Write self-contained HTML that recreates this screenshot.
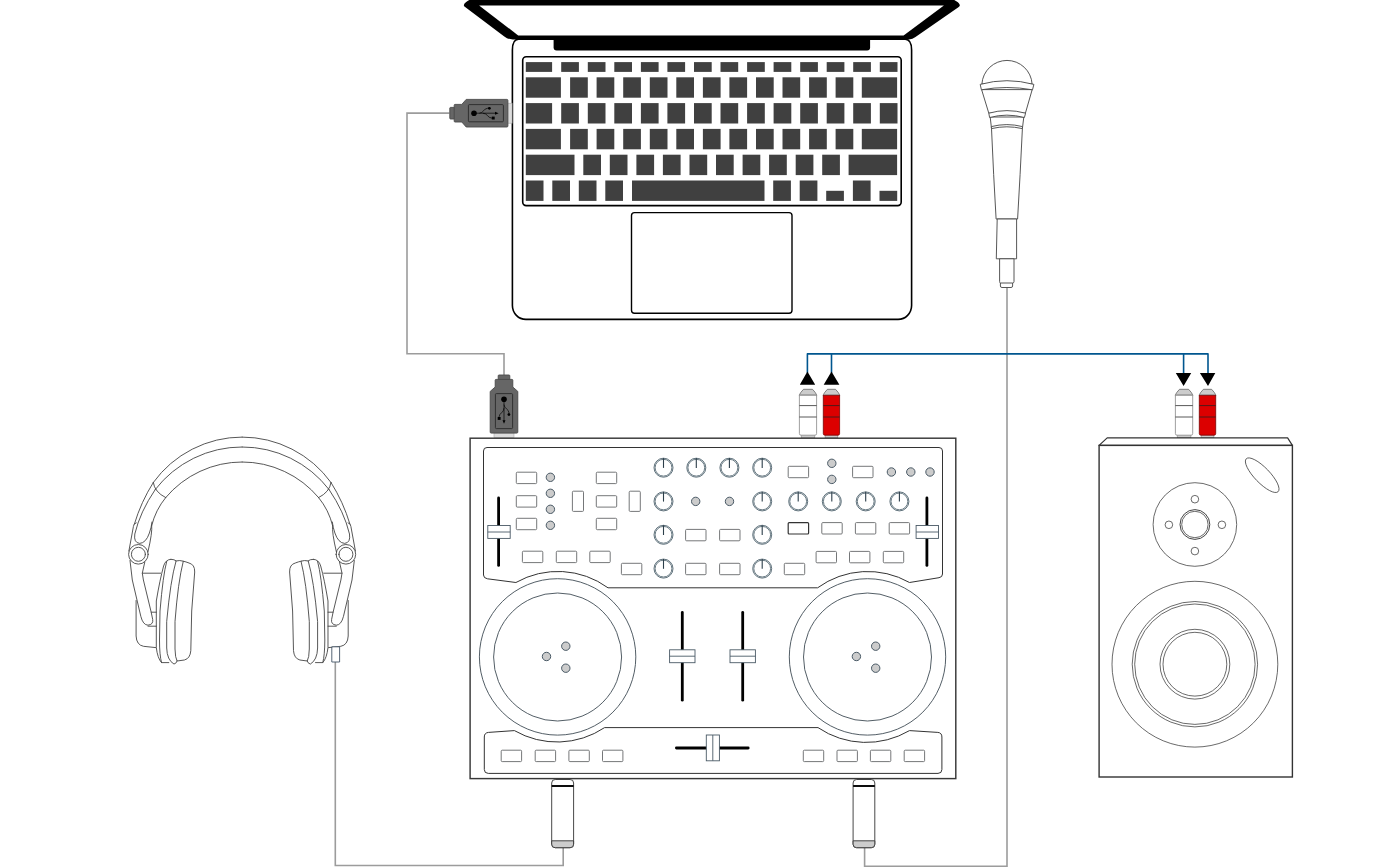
<!DOCTYPE html>
<html lang="en"><head><meta charset="utf-8"><title>DJ controller connection diagram</title>
<style>
html,body{margin:0;padding:0;background:#fff;}
body{width:1380px;height:867px;overflow:hidden;font-family:"Liberation Sans",sans-serif;}
svg{display:block;}
.cable{fill:none;stroke:#9c9c9c;stroke-width:1.6;}
.blue{fill:none;stroke:#00568f;stroke-width:1.6;stroke-linejoin:round;}
.k{fill:#404040;}
.btn{fill:#fff;stroke:#6e7072;stroke-width:0.95;}
.led{fill:#ccc;stroke:#4a5a66;stroke-width:1;}
.thin{fill:none;stroke:#444;stroke-width:1;}
.hp{fill:none;stroke:#444;stroke-width:0.9;stroke-linecap:round;stroke-linejoin:round;}
</style></head><body>
<svg width="1380" height="867" viewBox="0 0 1380 867">
<rect width="1380" height="867" fill="#fff"/>

<g id="cables">
<path class="cable" d="M449.5 113.1 H407 V353.8 H504 V375"/>
<path class="cable" d="M1007 287.5 V866.2 H864.6 V847.5"/>
<path class="cable" d="M335.3 662 V865.5 H563.2 V847.5"/>
</g>
<g id="rca-link">
<path class="blue" d="M807.4 373 V353.9 H1208 V374"/>
<path class="blue" d="M831.5 373 V353.9 M1183.6 353.9 V374"/>
<path fill="#000" d="M807.4 371.6 L815.2 384.8 H799.8 Z M831.5 371.6 L839.4 384.8 H823.7 Z"/>
<path fill="#000" d="M1175.8 373 H1191.2 L1183.6 386 Z M1199.9 373 H1215.3 L1208 386 Z"/>
</g>
<g id="laptop">
<path d="M471.5 -1 C467 0.8 464.6 2.8 463.9 4.9 Q463.5 6 465.1 7.1 L504.3 36.5 Q507.8 39.4 512.8 39.4 H909 Q912.5 39.4 915.5 37.1 L958.4 7.2 Q960.3 5.9 959.7 4.8 C959 2.8 956.5 0.8 952 -1 Z" fill="#000"/>
<path d="M479.1 5.5 L518.2 35.4 H903.6 L943.9 5.5 Z" fill="#fff"/>
<path d="M518.5 39.2 H905.2 Q911.6 39.2 911.6 50 V305.5 A13.5 14 0 0 1 898.1 319.4 H525.9 A13.5 14 0 0 1 512.4 305.5 V50 Q512.4 39.2 518.5 39.2 Z" fill="#fff" stroke="#000" stroke-width="1.6"/>
<path d="M553.6 38.5 H870.1 V47.4 Q870.1 50.4 867.1 50.4 H556.6 Q553.6 50.4 553.6 47.4 Z" fill="#000"/>
<rect x="522.7" y="56.8" width="378.5" height="148.8" rx="3.5" fill="#fff" stroke="#000" stroke-width="1.6"/>
<rect x="631.5" y="212.6" width="160.5" height="100.6" rx="3" fill="#fff" stroke="#000" stroke-width="1.4"/>
<rect class="k" x="525.8" y="62.1" width="26.3" height="9.8"/>
<rect class="k" x="561.2" y="62.1" width="17.7" height="9.8"/>
<rect class="k" x="587.8" y="62.1" width="17.7" height="9.8"/>
<rect class="k" x="614.3" y="62.1" width="17.7" height="9.8"/>
<rect class="k" x="640.9" y="62.1" width="17.7" height="9.8"/>
<rect class="k" x="667.4" y="62.1" width="17.7" height="9.8"/>
<rect class="k" x="694.0" y="62.1" width="17.7" height="9.8"/>
<rect class="k" x="720.5" y="62.1" width="17.7" height="9.8"/>
<rect class="k" x="747.1" y="62.1" width="17.7" height="9.8"/>
<rect class="k" x="773.6" y="62.1" width="17.7" height="9.8"/>
<rect class="k" x="800.2" y="62.1" width="17.7" height="9.8"/>
<rect class="k" x="826.7" y="62.1" width="17.7" height="9.8"/>
<rect class="k" x="853.2" y="62.1" width="17.7" height="9.8"/>
<rect class="k" x="879.8" y="62.1" width="17.7" height="9.8"/>
<rect class="k" x="525.8" y="77.3" width="35.1" height="20.4"/>
<rect class="k" x="570.1" y="77.3" width="17.7" height="20.4"/>
<rect class="k" x="596.6" y="77.3" width="17.7" height="20.4"/>
<rect class="k" x="623.2" y="77.3" width="17.7" height="20.4"/>
<rect class="k" x="649.8" y="77.3" width="17.7" height="20.4"/>
<rect class="k" x="676.3" y="77.3" width="17.7" height="20.4"/>
<rect class="k" x="702.9" y="77.3" width="17.7" height="20.4"/>
<rect class="k" x="729.4" y="77.3" width="17.7" height="20.4"/>
<rect class="k" x="756.0" y="77.3" width="17.7" height="20.4"/>
<rect class="k" x="782.5" y="77.3" width="17.7" height="20.4"/>
<rect class="k" x="809.1" y="77.3" width="17.7" height="20.4"/>
<rect class="k" x="835.6" y="77.3" width="17.7" height="20.4"/>
<rect class="k" x="861.8" y="77.3" width="35.3" height="20.4"/>
<rect class="k" x="525.8" y="103.1" width="26.3" height="20.4"/>
<rect class="k" x="561.2" y="103.1" width="17.7" height="20.4"/>
<rect class="k" x="587.8" y="103.1" width="17.7" height="20.4"/>
<rect class="k" x="614.3" y="103.1" width="17.7" height="20.4"/>
<rect class="k" x="640.9" y="103.1" width="17.7" height="20.4"/>
<rect class="k" x="667.4" y="103.1" width="17.7" height="20.4"/>
<rect class="k" x="694.0" y="103.1" width="17.7" height="20.4"/>
<rect class="k" x="720.5" y="103.1" width="17.7" height="20.4"/>
<rect class="k" x="747.1" y="103.1" width="17.7" height="20.4"/>
<rect class="k" x="773.6" y="103.1" width="17.7" height="20.4"/>
<rect class="k" x="800.2" y="103.1" width="17.7" height="20.4"/>
<rect class="k" x="826.7" y="103.1" width="17.7" height="20.4"/>
<rect class="k" x="853.2" y="103.1" width="17.7" height="20.4"/>
<rect class="k" x="879.8" y="103.1" width="17.7" height="20.4"/>
<rect class="k" x="525.8" y="128.9" width="35.1" height="20.4"/>
<rect class="k" x="570.1" y="128.9" width="17.7" height="20.4"/>
<rect class="k" x="596.6" y="128.9" width="17.7" height="20.4"/>
<rect class="k" x="623.2" y="128.9" width="17.7" height="20.4"/>
<rect class="k" x="649.8" y="128.9" width="17.7" height="20.4"/>
<rect class="k" x="676.3" y="128.9" width="17.7" height="20.4"/>
<rect class="k" x="702.9" y="128.9" width="17.7" height="20.4"/>
<rect class="k" x="729.4" y="128.9" width="17.7" height="20.4"/>
<rect class="k" x="756.0" y="128.9" width="17.7" height="20.4"/>
<rect class="k" x="782.5" y="128.9" width="17.7" height="20.4"/>
<rect class="k" x="809.1" y="128.9" width="17.7" height="20.4"/>
<rect class="k" x="835.6" y="128.9" width="17.7" height="20.4"/>
<rect class="k" x="861.8" y="128.9" width="35.3" height="20.4"/>
<rect class="k" x="525.8" y="154.7" width="48.7" height="20.4"/>
<rect class="k" x="583.3" y="154.7" width="17.7" height="20.4"/>
<rect class="k" x="609.8" y="154.7" width="17.7" height="20.4"/>
<rect class="k" x="636.4" y="154.7" width="17.7" height="20.4"/>
<rect class="k" x="662.9" y="154.7" width="17.7" height="20.4"/>
<rect class="k" x="689.5" y="154.7" width="17.7" height="20.4"/>
<rect class="k" x="716.0" y="154.7" width="17.7" height="20.4"/>
<rect class="k" x="742.6" y="154.7" width="17.7" height="20.4"/>
<rect class="k" x="769.1" y="154.7" width="17.7" height="20.4"/>
<rect class="k" x="795.7" y="154.7" width="17.7" height="20.4"/>
<rect class="k" x="822.2" y="154.7" width="17.7" height="20.4"/>
<rect class="k" x="848.6" y="154.7" width="48.5" height="20.4"/>
<rect class="k" x="525.8" y="180.5" width="17.7" height="20.4"/>
<rect class="k" x="552.3" y="180.5" width="17.7" height="20.4"/>
<rect class="k" x="578.8" y="180.5" width="17.7" height="20.4"/>
<rect class="k" x="605.3" y="180.5" width="17.7" height="20.4"/>
<rect class="k" x="632.0" y="180.5" width="132.5" height="20.4"/>
<rect class="k" x="773.2" y="180.5" width="17.7" height="20.4"/>
<rect class="k" x="799.7" y="180.5" width="17.7" height="20.4"/>
<rect class="k" x="826.2" y="190.8" width="17.7" height="10.1"/>
<rect class="k" x="852.9" y="180.5" width="17.7" height="20.4"/>
<rect class="k" x="879.5" y="190.8" width="17.7" height="10.1"/>
</g>
<defs><g id="usb">
<rect x="58.3" y="-10" width="4.4" height="20" fill="#ddd" stroke="#aaa" stroke-width="0.6"/>
<rect x="0.4" y="-5.8" width="5" height="11.6" rx="0.8" fill="#666" stroke="#4a4a4a" stroke-width="0.9"/>
<path d="M4.8 -8 Q4.8 -8.8 5.6 -8.8 H12.4 L16.8 -13.8 H57.5 Q58.5 -13.8 58.5 -12.8 V12.8 Q58.5 13.8 57.5 13.8 H16.8 L12.4 8.8 H5.6 Q4.8 8.8 4.8 8 Z" fill="#666" stroke="#4a4a4a" stroke-width="0.9" stroke-linejoin="round"/>
<rect x="19" y="-8.6" width="35" height="17.2" rx="1" fill="#666" stroke="#2a2a2a" stroke-width="0.9"/>
<circle cx="24.6" cy="0" r="2.8" fill="#000"/>
<path d="M24.6 0 H46.5" stroke="#000" stroke-width="0.7" fill="none"/>
<path d="M45.6 -1.5 L49.2 0 L45.6 1.5 Z" fill="#000"/>
<path d="M30 0 C34 0 34.5 -4.9 38 -4.9 H40" stroke="#000" stroke-width="0.7" fill="none"/>
<circle cx="40" cy="-4.9" r="1.4" fill="#000"/>
<path d="M33.5 0 C38 0 38.5 4.8 42 4.8 H43.5" stroke="#000" stroke-width="0.7" fill="none"/>
<rect x="42.4" y="3.4" width="2.9" height="2.9" fill="#000"/>
</g></defs>
<use href="#usb" transform="translate(449.4 113.2)"/>
<use href="#usb" transform="translate(504 374.6) rotate(90)"/>
<g id="mic" fill="#fff" stroke="#444" stroke-width="0.9" stroke-linejoin="round">
<path d="M981.9 84 A25.15 25.15 0 0 1 1032.1 84 Z"/>
<path d="M981.6 89.6 L988.8 113.2 H1025.4 L1032.2 89.6 Z"/>
<path d="M980.2 84.4 Q1006.8 77 1033.9 84.4 L1032.5 89.8 Q1006.8 85.2 981.4 89.8 Z"/>
<path d="M990.2 117 L991.5 128.5 Q993.5 175 996.1 219 H1017.6 Q1020.2 175 1022.4 128.5 L1023.8 117 Z"/>
<path d="M988.8 113.2 Q1006.8 108 1025.6 113.2 L1024.4 117.5 Q1006.8 112.8 989.6 117.5 Z"/>
<path d="M991.3 126.6 Q1006.8 122.6 1022.5 126.6 L1022.4 128.6 Q1006.8 125 991.5 128.6 Z"/>
<path d="M997.2 219 H1016.6 L1016.6 258.8 H996.3 Z"/>
<path d="M999.6 258.8 H1014 V281.5 Q1014 283 1012.6 283 V286 Q1012.6 287.5 1011 287.5 H1002 Q1000.4 287.5 1000.4 286 V283 Q999.6 283 999.6 281.5 Z"/>
<path d="M1000.4 283 H1012.6" fill="none"/>
</g>
<g>
<rect x="801.2" y="434" width="13.6" height="3.8" fill="#ccc" stroke="#888" stroke-width="0.6"/>
<path d="M799.4 396 V394.8 Q800.3 392.6 803.5 389.3 H812.5 Q815.7 392.6 816.6 394.8 V396 Z" fill="#ccc" stroke="#555" stroke-width="0.7" stroke-linejoin="round"/>
<path d="M799.4 395.3 H816.6 V433.6 Q816.6 435.2 815.0 435.2 H801.0 Q799.4 435.2 799.4 433.6 Z" fill="#fff" stroke="#888" stroke-width="0.8"/>
<path d="M799.7 394.6 H816.3" stroke="#999" stroke-width="0.8" fill="none"/>
<path d="M799.4 405.6 H816.6 M799.4 417 H816.6" stroke="#222" stroke-width="0.75" fill="none"/>
</g>
<g>
<rect x="825.1" y="434" width="12.7" height="3.8" fill="#ccc" stroke="#888" stroke-width="0.6"/>
<path d="M823.3 396 V394.8 Q824.2 392.6 827.4 389.3 H835.5 Q838.7 392.6 839.6 394.8 V396 Z" fill="#ccc" stroke="#555" stroke-width="0.7" stroke-linejoin="round"/>
<path d="M823.3 395.3 H839.6 V433.6 Q839.6 435.2 838.0 435.2 H824.9 Q823.3 435.2 823.3 433.6 Z" fill="#dc0000" stroke="#700" stroke-width="0.8"/>
<path d="M823.6 394.6 H839.3" stroke="#999" stroke-width="0.8" fill="none"/>
<path d="M823.3 405.6 H839.6 M823.3 417 H839.6" stroke="#222" stroke-width="0.75" fill="none"/>
</g>
<g>
<rect x="1177.2" y="434" width="13.7" height="3.8" fill="#ccc" stroke="#888" stroke-width="0.6"/>
<path d="M1175.4 396 V394.8 Q1176.3 392.6 1179.5 389.3 H1188.6 Q1191.8 392.6 1192.7 394.8 V396 Z" fill="#ccc" stroke="#555" stroke-width="0.7" stroke-linejoin="round"/>
<path d="M1175.4 395.3 H1192.7 V433.6 Q1192.7 435.2 1191.1 435.2 H1177.0 Q1175.4 435.2 1175.4 433.6 Z" fill="#fff" stroke="#888" stroke-width="0.8"/>
<path d="M1175.7 394.6 H1192.4" stroke="#999" stroke-width="0.8" fill="none"/>
<path d="M1175.4 405.6 H1192.7 M1175.4 417 H1192.7" stroke="#222" stroke-width="0.75" fill="none"/>
</g>
<g>
<rect x="1201.1" y="434" width="12.8" height="3.8" fill="#ccc" stroke="#888" stroke-width="0.6"/>
<path d="M1199.3 396 V394.8 Q1200.2 392.6 1203.4 389.3 H1211.6 Q1214.8 392.6 1215.7 394.8 V396 Z" fill="#ccc" stroke="#555" stroke-width="0.7" stroke-linejoin="round"/>
<path d="M1199.3 395.3 H1215.7 V433.6 Q1215.7 435.2 1214.1 435.2 H1200.9 Q1199.3 435.2 1199.3 433.6 Z" fill="#dc0000" stroke="#700" stroke-width="0.8"/>
<path d="M1199.6 394.6 H1215.4" stroke="#999" stroke-width="0.8" fill="none"/>
<path d="M1199.3 405.6 H1215.7 M1199.3 417 H1215.7" stroke="#222" stroke-width="0.75" fill="none"/>
</g>
<g id="speaker" fill="#fff" stroke="#333">
<path d="M1099.1 445.4 L1107.2 437.9 H1287.6 L1292.4 445.4 Z" stroke-width="1.2" stroke-linejoin="round"/>
<rect x="1099.1" y="445.4" width="193.3" height="331.6" stroke-width="1.4"/>
<ellipse cx="1262.2" cy="475.2" rx="22.9" ry="7.6" transform="rotate(46 1262.2 475.2)" stroke-width="0.8" stroke="#444"/>
<g stroke-width="0.8" stroke="#444" fill="none">
<circle cx="1194.9" cy="524.5" r="41.8"/>
<circle cx="1194.9" cy="524.5" r="14.9" stroke-width="1"/><circle cx="1194.9" cy="524.5" r="13.2"/>
<circle cx="1194.9" cy="499.2" r="3.8"/>
<circle cx="1194.9" cy="551.1" r="3.8"/>
<circle cx="1168.9" cy="524.8" r="3.8"/>
<circle cx="1221.9" cy="524.8" r="3.8"/>
<circle cx="1194.9" cy="664.2" r="82.9"/>
<circle cx="1194.9" cy="664.2" r="62.7"/>
<circle cx="1194.9" cy="664.2" r="60.2"/>
<circle cx="1194.9" cy="664.2" r="34.9"/>
<circle cx="1194.9" cy="664.2" r="31.9"/>
</g></g>
<g id="controller">
<rect x="470.1" y="438.2" width="485.7" height="340.4" fill="#fff" stroke="#383838" stroke-width="1.45"/>
<path d="M487 447.5 H939 Q942.5 447.5 942.5 451 V574 Q942.5 577.2 939 577.7 L909.5 582.5 A85 85 0 0 0 817.6 587.8 H608 A85 85 0 0 0 515.9 582.5 L487.5 578.8 Q483.5 578.2 483.5 575 V451 Q483.5 447.5 487 447.5 Z" fill="#fff" stroke="#333" stroke-width="1"/>
<path d="M484.3 737 Q484.3 732.8 488.5 732.4 L514.4 730.6 A85.5 85.5 0 0 0 604.6 727.6 H818 A85.5 85.5 0 0 0 909.5 730.6 L937.8 732.4 Q941.9 732.8 941.9 737 V769.5 Q941.9 773.4 938 773.4 H488.3 Q484.3 773.4 484.3 769.5 Z" fill="#fff" stroke="#333" stroke-width="1"/>
<circle cx="557.6" cy="656.9" r="78.2" fill="#fff" stroke="#3f4c55" stroke-width="0.9"/>
<circle cx="557.6" cy="657" r="64" fill="none" stroke="#3f4c55" stroke-width="0.9"/>
<circle class="led" cx="546.5" cy="656.5" r="4.2"/>
<circle class="led" cx="565.8" cy="646.2" r="4.2"/>
<circle class="led" cx="565.8" cy="668.2" r="4.2"/>
<circle cx="867.5" cy="656.9" r="78.2" fill="#fff" stroke="#3f4c55" stroke-width="0.9"/>
<circle cx="867.5" cy="657" r="64" fill="none" stroke="#3f4c55" stroke-width="0.9"/>
<circle class="led" cx="856.4" cy="656.5" r="4.2"/>
<circle class="led" cx="875.7" cy="646.2" r="4.2"/>
<circle class="led" cx="875.7" cy="668.2" r="4.2"/>
<rect class="btn" x="516.3" y="472.2" width="20.4" height="11.4" rx="1"/>
<rect class="btn" x="596.3" y="472.2" width="20.4" height="11.4" rx="1"/>
<rect class="btn" x="516.3" y="495.7" width="20.4" height="11.4" rx="1"/>
<rect class="btn" x="596.3" y="495.7" width="20.4" height="11.4" rx="1"/>
<rect class="btn" x="516.3" y="518.3" width="20.4" height="11.4" rx="1"/>
<rect class="btn" x="596.3" y="518.3" width="20.4" height="11.4" rx="1"/>
<circle class="led" cx="550.4" cy="477.3" r="4.2"/>
<circle class="led" cx="550.4" cy="493.3" r="4.2"/>
<circle class="led" cx="550.4" cy="509.3" r="4.2"/>
<circle class="led" cx="550.4" cy="525.3" r="4.2"/>
<rect class="btn" x="572.4" y="491.2" width="11.1" height="20.2" rx="1"/>
<rect class="btn" x="629.2" y="491.2" width="11.1" height="20.2" rx="1"/>
<rect class="btn" x="522.4" y="551.2" width="20.4" height="11.4" rx="1"/>
<rect class="btn" x="556.3" y="551.2" width="20.4" height="11.4" rx="1"/>
<rect class="btn" x="589.8" y="551.2" width="20.4" height="11.4" rx="1"/>
<rect class="btn" x="621.4" y="563.3" width="20.4" height="11.4" rx="1"/>
<circle cx="663.5" cy="467.7" r="9.5" fill="#fff" stroke="#455a66" stroke-width="0.85"/>
<circle cx="663.5" cy="467.7" r="8.4" fill="none" stroke="#455a66" stroke-width="0.8"/>
<path d="M663.5 458.1 V467.9" stroke="#2c3e4a" stroke-width="1.1"/>
<circle cx="696.3" cy="467.7" r="9.5" fill="#fff" stroke="#455a66" stroke-width="0.85"/>
<circle cx="696.3" cy="467.7" r="8.4" fill="none" stroke="#455a66" stroke-width="0.8"/>
<path d="M696.3 458.1 V467.9" stroke="#2c3e4a" stroke-width="1.1"/>
<circle cx="729.4" cy="467.7" r="9.5" fill="#fff" stroke="#455a66" stroke-width="0.85"/>
<circle cx="729.4" cy="467.7" r="8.4" fill="none" stroke="#455a66" stroke-width="0.8"/>
<path d="M729.4 458.1 V467.9" stroke="#2c3e4a" stroke-width="1.1"/>
<circle cx="762.2" cy="467.7" r="9.5" fill="#fff" stroke="#455a66" stroke-width="0.85"/>
<circle cx="762.2" cy="467.7" r="8.4" fill="none" stroke="#455a66" stroke-width="0.8"/>
<path d="M762.2 458.1 V467.9" stroke="#2c3e4a" stroke-width="1.1"/>
<circle cx="663.5" cy="501.4" r="9.5" fill="#fff" stroke="#455a66" stroke-width="0.85"/>
<circle cx="663.5" cy="501.4" r="8.4" fill="none" stroke="#455a66" stroke-width="0.8"/>
<path d="M663.5 491.8 V501.6" stroke="#2c3e4a" stroke-width="1.1"/>
<circle cx="762.2" cy="501.4" r="9.5" fill="#fff" stroke="#455a66" stroke-width="0.85"/>
<circle cx="762.2" cy="501.4" r="8.4" fill="none" stroke="#455a66" stroke-width="0.8"/>
<path d="M762.2 491.8 V501.6" stroke="#2c3e4a" stroke-width="1.1"/>
<circle cx="798.2" cy="501.4" r="9.5" fill="#fff" stroke="#455a66" stroke-width="0.85"/>
<circle cx="798.2" cy="501.4" r="8.4" fill="none" stroke="#455a66" stroke-width="0.8"/>
<path d="M798.2 491.8 V501.6" stroke="#2c3e4a" stroke-width="1.1"/>
<circle cx="831.8" cy="501.4" r="9.5" fill="#fff" stroke="#455a66" stroke-width="0.85"/>
<circle cx="831.8" cy="501.4" r="8.4" fill="none" stroke="#455a66" stroke-width="0.8"/>
<path d="M831.8 491.8 V501.6" stroke="#2c3e4a" stroke-width="1.1"/>
<circle cx="865.7" cy="501.4" r="9.5" fill="#fff" stroke="#455a66" stroke-width="0.85"/>
<circle cx="865.7" cy="501.4" r="8.4" fill="none" stroke="#455a66" stroke-width="0.8"/>
<path d="M865.7 491.8 V501.6" stroke="#2c3e4a" stroke-width="1.1"/>
<circle cx="899.4" cy="501.4" r="9.5" fill="#fff" stroke="#455a66" stroke-width="0.85"/>
<circle cx="899.4" cy="501.4" r="8.4" fill="none" stroke="#455a66" stroke-width="0.8"/>
<path d="M899.4 491.8 V501.6" stroke="#2c3e4a" stroke-width="1.1"/>
<circle cx="663.5" cy="534.8" r="9.5" fill="#fff" stroke="#455a66" stroke-width="0.85"/>
<circle cx="663.5" cy="534.8" r="8.4" fill="none" stroke="#455a66" stroke-width="0.8"/>
<path d="M663.5 525.2 V535.0" stroke="#2c3e4a" stroke-width="1.1"/>
<circle cx="663.5" cy="568.6" r="9.5" fill="#fff" stroke="#455a66" stroke-width="0.85"/>
<circle cx="663.5" cy="568.6" r="8.4" fill="none" stroke="#455a66" stroke-width="0.8"/>
<path d="M663.5 559.0 V568.8" stroke="#2c3e4a" stroke-width="1.1"/>
<circle cx="762.2" cy="534.8" r="9.5" fill="#fff" stroke="#455a66" stroke-width="0.85"/>
<circle cx="762.2" cy="534.8" r="8.4" fill="none" stroke="#455a66" stroke-width="0.8"/>
<path d="M762.2 525.2 V535.0" stroke="#2c3e4a" stroke-width="1.1"/>
<circle cx="762.2" cy="568.6" r="9.5" fill="#fff" stroke="#455a66" stroke-width="0.85"/>
<circle cx="762.2" cy="568.6" r="8.4" fill="none" stroke="#455a66" stroke-width="0.8"/>
<path d="M762.2 559.0 V568.8" stroke="#2c3e4a" stroke-width="1.1"/>
<circle class="led" cx="695.7" cy="501.4" r="4.2"/>
<circle class="led" cx="729.5" cy="501.4" r="4.2"/>
<rect class="btn" x="685.6" y="529.4" width="20.4" height="11.4" rx="1"/>
<rect class="btn" x="719.6" y="529.4" width="20.4" height="11.4" rx="1"/>
<rect class="btn" x="685.6" y="563.3" width="20.4" height="11.4" rx="1"/>
<rect class="btn" x="719.6" y="563.3" width="20.4" height="11.4" rx="1"/>
<rect class="btn" x="784.3" y="563.3" width="20.4" height="11.4" rx="1"/>
<rect class="btn" x="788.2" y="466.3" width="20.4" height="11.4" rx="1"/>
<rect class="btn" x="852.6" y="466.3" width="20.4" height="11.4" rx="1"/>
<circle class="led" cx="831.8" cy="463.3" r="4.2"/>
<circle class="led" cx="831.8" cy="479.4" r="4.2"/>
<circle class="led" cx="891.4" cy="472.0" r="4.2"/>
<circle class="led" cx="910.8" cy="472.0" r="4.2"/>
<circle class="led" cx="930.0" cy="472.0" r="4.2"/>
<rect class="btn" x="788.2" y="522.6" width="20.4" height="11.4" rx="1" style="stroke:#333;stroke-width:1.2"/>
<rect class="btn" x="821.8" y="522.6" width="20.4" height="11.4" rx="1"/>
<rect class="btn" x="855.4" y="522.6" width="20.4" height="11.4" rx="1"/>
<rect class="btn" x="889.2" y="522.6" width="20.4" height="11.4" rx="1"/>
<rect class="btn" x="816.1" y="551.4" width="20.4" height="11.4" rx="1"/>
<rect class="btn" x="849.5" y="551.4" width="20.4" height="11.4" rx="1"/>
<rect class="btn" x="883.3" y="551.4" width="20.4" height="11.4" rx="1"/>
<path d="M498.6 498.0 V565.4" stroke="#000" stroke-width="2.8" stroke-linecap="round"/>
<rect x="487.8" y="525.5" width="22.4" height="12.9" fill="#fff" stroke="#4a5a66" stroke-width="0.9"/>
<path d="M487.8 532.0 H510.2" stroke="#4a5a66" stroke-width="0.9"/>
<path d="M926.9 498.0 V565.4" stroke="#000" stroke-width="2.8" stroke-linecap="round"/>
<rect x="916.1" y="525.5" width="22.4" height="12.9" fill="#fff" stroke="#4a5a66" stroke-width="0.9"/>
<path d="M916.1 532.0 H938.5" stroke="#4a5a66" stroke-width="0.9"/>
<path d="M682.3 612.4 V700.2" stroke="#000" stroke-width="2.8" stroke-linecap="round"/>
<rect x="669.6" y="649.8" width="25.4" height="12.9" fill="#fff" stroke="#4a5a66" stroke-width="0.9"/>
<path d="M669.6 656.2 H695.0" stroke="#4a5a66" stroke-width="0.9"/>
<path d="M742.7 612.4 V700.2" stroke="#000" stroke-width="2.8" stroke-linecap="round"/>
<rect x="730.0" y="649.8" width="25.4" height="12.9" fill="#fff" stroke="#4a5a66" stroke-width="0.9"/>
<path d="M730.0 656.2 H755.4" stroke="#4a5a66" stroke-width="0.9"/>
<path d="M676.4 748 H748.2" stroke="#000" stroke-width="2.8" stroke-linecap="round"/>
<rect x="706.3" y="735" width="13.1" height="25.8" fill="#fff" stroke="#4a5a66" stroke-width="0.9"/>
<path d="M712.8 735 V760.8" stroke="#4a5a66" stroke-width="0.9"/>
<rect class="btn" x="501.2" y="750.2" width="20.4" height="11.4" rx="1"/>
<rect class="btn" x="535.2" y="750.2" width="20.4" height="11.4" rx="1"/>
<rect class="btn" x="568.9" y="750.2" width="20.4" height="11.4" rx="1"/>
<rect class="btn" x="602.5" y="750.2" width="20.4" height="11.4" rx="1"/>
<rect class="btn" x="803.3" y="750.2" width="20.4" height="11.4" rx="1"/>
<rect class="btn" x="837.0" y="750.2" width="20.4" height="11.4" rx="1"/>
<rect class="btn" x="870.4" y="750.2" width="20.4" height="11.4" rx="1"/>
<rect class="btn" x="904.2" y="750.2" width="20.4" height="11.4" rx="1"/>
</g>
<g>
<rect x="551.7" y="779.5" width="21.9" height="68.2" rx="3.5" fill="#fff" stroke="#333" stroke-width="0.9"/>
<path d="M551.7 840.8 H573.6 V844.2 Q573.6 847.7 570.1 847.7 H555.2 Q551.7 847.7 551.7 844.2 Z" fill="#ccc" stroke="#333" stroke-width="0.9"/>
<path d="M551.7 786 H573.6" stroke="#000" stroke-width="1.9"/>
</g>
<g>
<rect x="853.1" y="779.5" width="21.7" height="68.2" rx="3.5" fill="#fff" stroke="#333" stroke-width="0.9"/>
<path d="M853.1 840.8 H874.8 V844.2 Q874.8 847.7 871.3 847.7 H856.6 Q853.1 847.7 853.1 844.2 Z" fill="#ccc" stroke="#333" stroke-width="0.9"/>
<path d="M853.1 786 H874.8" stroke="#000" stroke-width="1.9"/>
</g>
<defs><g id="hpL">
<path d="M242.15 437.1 A109.4 109.4 0 0 0 153.3 482.5"/>
<path d="M242.15 447 A109.2 109.2 0 0 0 155.2 489.6"/>
<path d="M242.15 462 A99.5 99.5 0 0 0 165.7 497.6"/>
<path d="M153.3 482.5 Q154.5 492 165.7 497.6"/>
<path d="M153.3 482.5 Q141 502 134.4 524"/>
<path d="M155.2 489.6 Q140 512 134.8 534 Q133.5 542.8 139.7 543.4 Q146 543 149.4 533 Q151.5 527 152 522"/>
<path d="M165.7 497.6 Q155.5 510 151.7 525.6"/>
<path d="M136.2 522.8 Q133.4 523.6 133.4 526.5 L128.9 551"/>
<path d="M151.7 525.6 Q152.6 532 147.9 552"/>
<circle cx="138.4" cy="554.3" r="9.8"/><circle cx="138.4" cy="554.3" r="7"/>
<path d="M130 560.5 L132.3 580 L140.8 616.3 Q143 625 148 625.2 Q153.5 624.5 152.7 619.5 L151.2 612.2 L143.4 580 L142.3 573.2 L144.8 562"/>
<path d="M142.3 573.2 H160.6"/>
<path d="M151.2 612.2 H156.3 M148 626.2 H156.3"/>
<path d="M136.1 600.5 V636 Q136.5 645 143.5 646.3 L155.8 647.6"/>
<path d="M170.9 559.3 Q165.5 559.5 163.6 566 Q159.8 580 156.3 601 V647.5 Q157.5 658 161.5 662.6 H168.8"/>
<path d="M166.7 561.4 Q163 575 160 611 L159.5 640 Q159.5 655 161.5 662.6"/>
<path d="M170.9 559.3 Q174.5 559.4 176.1 560.9 Q170.5 580 166.7 621.5 V648 Q167 660 174 664.1 Q177 663 177.1 661"/>
<path d="M176.1 560.9 Q180 560 183.3 561.2 Q178 582 175 621.5 V649 Q175.2 658 177.1 661 L184.4 660 Q190.2 658.5 190.8 650.6 L191.7 611 L194.7 572 Q194.9 564.5 189 563 Q186 561.8 183.3 561.2"/>
</g></defs>
<g class="hp"><use href="#hpL"/><use href="#hpL" transform="translate(484.3 0) scale(-1 1)"/>
<rect x="332.2" y="646.8" width="7.4" height="15.2" fill="#fff" stroke="#456" />
</g>
</svg></body></html>
